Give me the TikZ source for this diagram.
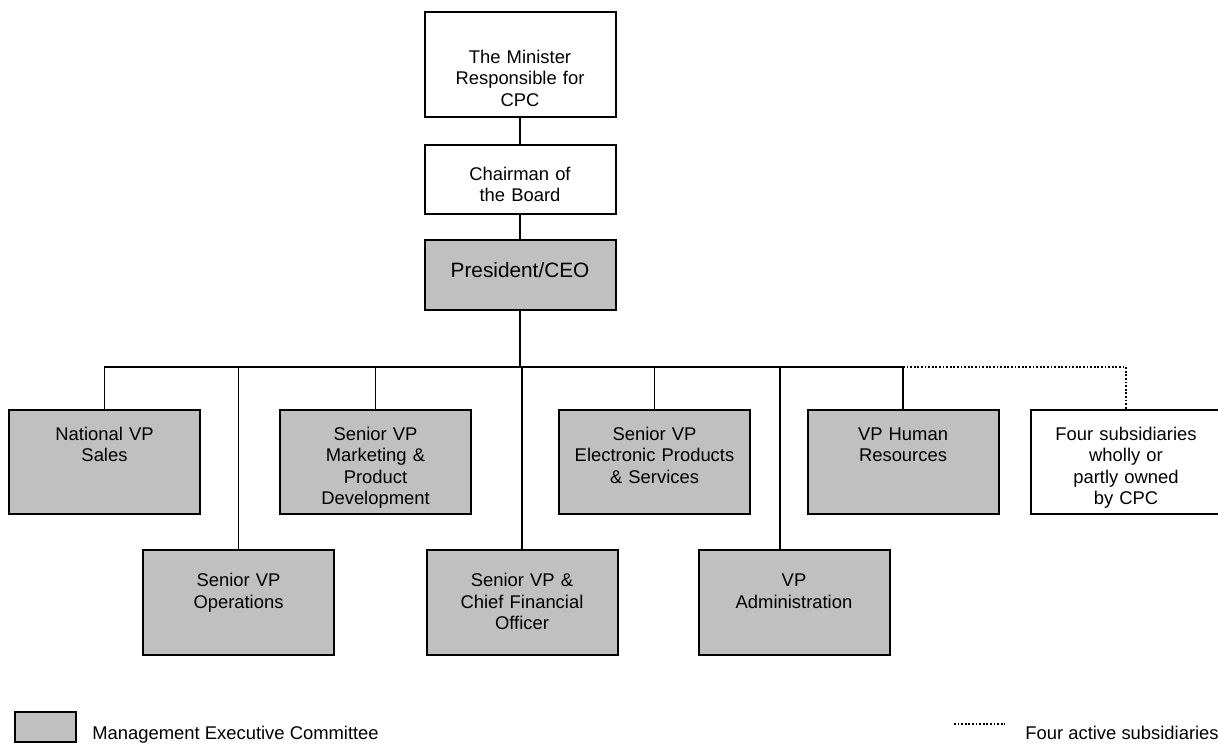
\documentclass[tikz,border=0pt]{standalone}
\usepackage{fontspec}
\setmainfont{Liberation Sans}
\usetikzlibrary{positioning}
\definecolor{mecgray}{RGB}{192,192,192}
\tikzset{every node/.style={font=\fontsize{9.2}{10.8}\selectfont},
box/.style={draw,line width=1pt,text width=91.5pt,inner xsep=2pt,inner ysep=0pt,align=center}, % plain white box
mec/.style={box,fill=mecgray}, % member of the management executive committee
toprow/.style={text height=15pt,text depth=37pt},
lowrow/.style={text height=18.5pt,text depth=34pt},
keybox/.style={draw,line width=1pt,fill=mecgray,minimum width=30.5pt,minimum height=15pt,inner sep=0pt},
link/.style={line width=0.9pt},
sublink/.style={line width=1pt,dash pattern=on 0.9pt off 0.9pt}
}

\begin{document}
\begin{tikzpicture}[x=0.5pt,y=-0.5pt]
    \useasboundingbox (0,0) rectangle (1218,745);
    \node[box,text height=25.5pt,text depth=27pt] (minister) at (520,64.5) {The Minister\\Responsible for\\CPC};
    \node[box,below=13pt of minister,text height=17.5pt,text depth=17pt] (chairman) {Chairman of\\the Board};
    \node[mec,below=12pt of chairman,text height=18.5pt,text depth=16.5pt,font=\fontsize{10.4}{12.5}\selectfont] (ceo) {President/CEO};
    \coordinate[below=28pt of ceo] (bus);

    \node[mec,toprow] (sales) at (104.5,462) {National VP\\Sales};
    \node[mec,toprow] (marketing) at (375.5,462) {Senior VP\\Marketing \&\\Product\\Development};
    \node[mec,toprow] (electronic) at (654.5,462) {Senior VP\\Electronic Products\\\& Services};
    \node[mec,toprow] (hr) at (903,462) {VP Human\\Resources};
    \node[box,toprow] (subs) at (1126,462) {Four subsidiaries\\wholly or\\partly owned\\by CPC};

    \node[mec,lowrow] (operations) at (238.5,602) {Senior VP\\Operations};
    \node[mec,lowrow] (cfo) at (522,602) {Senior VP \&\\Chief Financial\\Officer};
    \node[mec,lowrow] (admin) at (794,602) {VP\\Administration};

    \draw[link] (minister) -- (chairman) (chairman) -- (ceo) (ceo) -- (bus);
    \foreach \unit in {sales,operations,marketing,cfo,electronic,hr}
        \draw[link] (bus) -| (\unit);
    \draw[link] (bus) -| ([xshift=-7pt]admin.north);
    \draw[sublink] (bus -| hr) -| (subs);

    \node[keybox] (mecKey) at (45.5,727) {};
    \node[anchor=base west,inner sep=0pt] (mecText) at (92,739) {Management Executive Committee};
    \coordinate (subKeyA) at (954,724);
    \coordinate[right=25.5pt of subKeyA] (subKeyB);
    \draw[sublink] (subKeyA) -- (subKeyB);
    \node[anchor=base west,inner sep=0pt] (subText) at (1025,739) {Four active subsidiaries};
\end{tikzpicture}
\end{document}
